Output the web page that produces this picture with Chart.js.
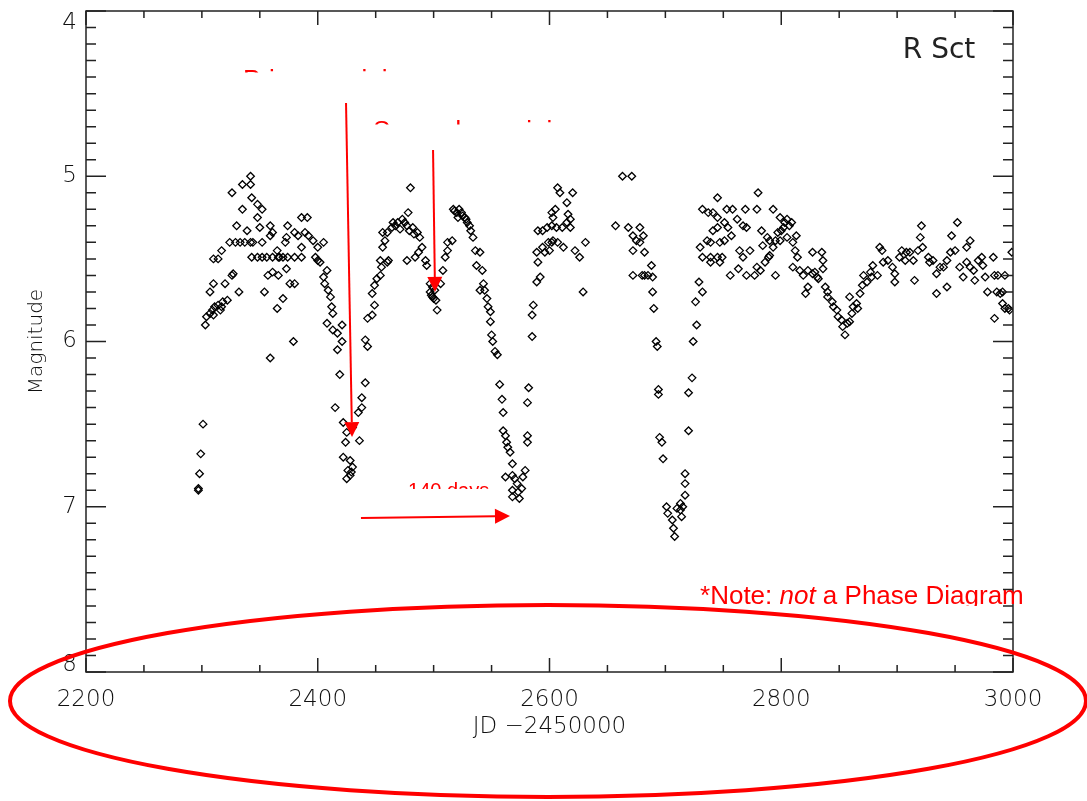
<!DOCTYPE html>
<html>
<head>
<meta charset="utf-8">
<title>R Sct light curve</title>
<script src="https://cdn.jsdelivr.net/npm/chart.js@4.4.1/dist/chart.umd.min.js"></script>
<style>
    html, body { margin: 0; padding: 0; background: #fff; }
    #wrap { width: 1087px; height: 801px; }
</style>
</head>
<body>
<div id="wrap"><canvas id="myChart" width="1087" height="801"></canvas></div>
<script>
var jd = [
    2297, 2297, 2298, 2299, 2301,
    2303, 2304, 2307, 2310, 2309, 2311, 2314, 2317, 2318, 2322, 2316,
    2307, 2310, 2320, 2326, 2327, 2332,
    2310, 2314, 2317,
    2324, 2329, 2333, 2337, 2342, 2344,
    2330, 2339, 2326, 2335, 2342, 2342, 2343, 2335, 2348, 2352, 2348, 2350, 2359, 2352, 2359, 2361,
    2374, 2383, 2386, 2391, 2389, 2392, 2396, 2405, 2400, 2386, 2380, 2373, 2372, 2365,
    2343, 2348, 2352, 2356, 2361, 2367, 2370, 2374, 2380, 2386, 2398, 2366, 2400,
    2402, 2408, 2405, 2406, 2409, 2411, 2412, 2413, 2408, 2413, 2417, 2421, 2421, 2417, 2419, 2415,
    2422, 2425, 2430, 2436, 2424, 2422, 2428, 2430, 2428, 2425, 2429, 2426,
    2357, 2361, 2366, 2373, 2376, 2380, 2370, 2365, 2354, 2359, 2379,
    2441, 2438, 2438, 2435, 2443, 2441, 2443, 2447, 2449, 2447, 2449, 2451, 2454, 2455, 2460, 2461,
    2454, 2456, 2458, 2460, 2456, 2464, 2465, 2469, 2473, 2477, 2480, 2478, 2482, 2486, 2488, 2490,
    2487, 2484, 2477, 2493, 2494, 2497, 2499, 2499, 2503, 2506, 2508, 2510, 2512, 2512, 2516, 2517,
    2520, 2521, 2524, 2527, 2529, 2531, 2534, 2536, 2537, 2540,
    2497, 2498, 2500, 2501, 2502, 2467, 2471, 2475, 2479, 2483, 2518, 2522, 2525, 2528, 2532,
    2540, 2542, 2543, 2544, 2546, 2547, 2549, 2549, 2550, 2551, 2553, 2555, 2557, 2559, 2560, 2560,
    2562, 2563, 2564, 2566, 2568, 2562, 2568, 2570, 2572, 2568, 2573, 2568, 2574, 2576, 2577, 2579,
    2581, 2581, 2581, 2582, 2585, 2585, 2586, 2589, 2592, 2590, 2589, 2594, 2596, 2600, 2599, 2602,
    2603, 2607, 2612, 2590, 2594, 2598, 2602, 2606, 2611, 2615, 2618, 2616, 2602, 2605, 2603, 2607,
    2609, 2615, 2620, 2618, 2622, 2626, 2631, 2629,
    2657, 2663, 2671, 2668, 2672, 2678, 2681, 2675, 2678, 2672, 2682, 2688, 2672, 2680, 2682, 2685,
    2689, 2689, 2690, 2692, 2693, 2694, 2694, 2695, 2697, 2698, 2701, 2702, 2706, 2707, 2708, 2710,
    2713, 2714, 2713, 2715, 2717, 2717, 2717, 2720, 2720, 2723, 2724, 2727, 2726, 2729, 2732, 2732,
    2739, 2745, 2749, 2730, 2736, 2739, 2741, 2745, 2751, 2754, 2757, 2751, 2747, 2747, 2739, 2732,
    2737, 2741, 2745, 2745, 2753, 2758, 2769, 2779, 2780, 2793, 2762, 2767, 2770, 2783, 2788, 2790,
    2784, 2793, 2756, 2763, 2770, 2777, 2782, 2786, 2789, 2795, 2764, 2767, 2773, 2779, 2790,
    2799, 2802, 2805, 2809, 2797, 2795, 2799, 2805, 2810, 2812, 2814, 2810, 2816, 2819, 2823, 2827,
    2829, 2831, 2823, 2821, 2827, 2835, 2836, 2836, 2832, 2838, 2840, 2840, 2844, 2845, 2848, 2849,
    2852, 2853, 2855, 2857, 2859, 2861, 2862, 2865, 2866, 2859, 2868, 2870, 2871, 2874, 2877, 2879,
    2878, 2883, 2885, 2887, 2888, 2892, 2896, 2898, 2898, 2902, 2904, 2907, 2908, 2911, 2915, 2914,
    2918, 2920, 2921, 2922, 2927, 2928, 2931, 2934, 2934, 2937, 2940, 2943, 2943, 2946, 2947, 2950,
    2952, 2954, 2957, 2960, 2963, 2960, 2963, 2966, 2967, 2970, 2973, 2974, 2976, 2978, 2983, 2984,
    2984, 2986, 2989, 2991, 2993, 2996, 2999, 2991, 2993, 2987, 2997,
    2800, 2803, 2807, 2813
];
var mag = [
    6.90, 6.89, 6.80, 6.68, 6.50,
    5.90, 5.85, 5.83, 5.84, 5.81, 5.79, 5.78, 5.79, 5.76, 5.75, 5.81,
    5.70, 5.65, 5.65, 5.60, 5.59, 5.70,
    5.50, 5.50, 5.45,
    5.40, 5.40, 5.40, 5.40, 5.40, 5.40,
    5.30, 5.33, 5.10, 5.05, 5.05, 5.00, 5.13, 5.20, 5.17, 5.20, 5.25, 5.31, 5.30, 5.40, 5.36, 5.34,
    5.30, 5.36, 5.25, 5.25, 5.34, 5.36, 5.39, 5.40, 5.43, 5.43, 5.34, 5.37, 5.40, 5.45,
    5.49, 5.49, 5.49, 5.49, 5.49, 5.49, 5.49, 5.49, 5.49, 5.49, 5.49, 5.49, 5.51,
    5.52, 5.57, 5.61, 5.65, 5.69, 5.73, 5.79, 5.83, 5.89, 5.93, 5.95, 5.90, 6.00, 6.05, 6.20, 6.40,
    6.49, 6.55, 6.52, 6.60, 6.61, 6.70, 6.72, 6.76, 6.81, 6.83, 6.79, 6.78,
    5.60, 5.58, 5.60, 5.56, 5.65, 5.65, 5.74, 5.80, 5.70, 6.10, 6.00,
    6.25, 6.34, 6.40, 6.43, 6.03, 5.99, 5.86, 5.84, 5.78, 5.71, 5.66, 5.62, 5.60, 5.55, 5.52, 5.51,
    5.51, 5.43, 5.39, 5.34, 5.34, 5.31, 5.28, 5.28, 5.26, 5.30, 5.07, 5.22, 5.31, 5.34, 5.37, 5.43,
    5.46, 5.49, 5.51, 5.51, 5.54, 5.65, 5.67, 5.73, 5.81, 5.65, 5.57, 5.49, 5.45, 5.40, 5.39, 5.20,
    5.22, 5.25, 5.22, 5.25, 5.28, 5.30, 5.37, 5.45, 5.54, 5.69,
    5.70, 5.72, 5.74, 5.69, 5.75, 5.30, 5.32, 5.28, 5.33, 5.35, 5.21, 5.20, 5.24, 5.26, 5.33,
    5.46, 5.57, 5.65, 5.69, 5.74, 5.79, 5.82, 5.88, 5.96, 6.00, 6.06, 6.08, 6.26, 6.35, 6.43, 6.54,
    6.57, 6.61, 6.64, 6.67, 6.74, 6.82, 6.81, 6.83, 6.86, 6.90, 6.91, 6.94, 6.95, 6.89, 6.82, 6.78,
    6.61, 6.57, 6.37, 6.28, 5.97, 5.84, 5.78, 5.64, 5.61, 5.52, 5.46, 5.43, 5.46, 5.45, 5.40, 5.40,
    5.39, 5.40, 5.43, 5.33, 5.33, 5.31, 5.30, 5.31, 5.31, 5.28, 5.26, 5.23, 5.22, 5.20, 5.25, 5.07,
    5.10, 5.16, 5.10, 5.31, 5.45, 5.49, 5.40, 5.70,
    5.30, 5.00, 5.00, 5.31, 5.36, 5.31, 5.36, 5.39, 5.40, 5.45, 5.46, 5.54, 5.60, 5.60, 5.60, 5.60,
    5.61, 5.70, 5.80, 6.00, 6.03, 6.29, 6.32, 6.58, 6.61, 6.71, 7.00, 7.04, 7.08, 7.13, 7.18, 7.01,
    7.02, 7.06, 6.98, 7.00, 6.93, 6.86, 6.80, 6.54, 6.31, 6.22, 6.00, 5.90, 5.76, 5.64, 5.70, 5.49,
    5.49, 5.49, 5.49, 5.43, 5.39, 5.40, 5.33, 5.31, 5.28, 5.31, 5.36, 5.39, 5.40, 5.52, 5.52, 5.20,
    5.22, 5.22, 5.25, 5.13, 5.20, 5.20, 5.20, 5.20, 5.10, 5.20, 5.26, 5.30, 5.31, 5.33, 5.37, 5.39,
    5.42, 5.43, 5.60, 5.56, 5.60, 5.60, 5.57, 5.52, 5.49, 5.60, 5.45, 5.49, 5.45, 5.55, 5.48,
    5.25, 5.31, 5.26, 5.28, 5.34, 5.39, 5.39, 5.37, 5.40, 5.45, 5.49, 5.55, 5.57, 5.60, 5.57, 5.59,
    5.58, 5.61, 5.67, 5.71, 5.46, 5.46, 5.51, 5.56, 5.62, 5.67, 5.70, 5.73, 5.76, 5.79, 5.81, 5.85,
    5.87, 5.91, 5.96, 5.89, 5.88, 5.83, 5.79, 5.77, 5.80, 5.73, 5.71, 5.66, 5.60, 5.64, 5.58, 5.54,
    5.61, 5.60, 5.43, 5.45, 5.52, 5.51, 5.55, 5.59, 5.64, 5.49, 5.45, 5.51, 5.46, 5.46, 5.63, 5.51,
    5.45, 5.37, 5.30, 5.43, 5.49, 5.52, 5.51, 5.59, 5.71, 5.55, 5.55, 5.67, 5.51, 5.46, 5.36, 5.45,
    5.28, 5.55, 5.61, 5.43, 5.39, 5.52, 5.55, 5.57, 5.63, 5.51, 5.49, 5.54, 5.61, 5.70, 5.49, 5.60,
    5.86, 5.70, 5.71, 5.77, 5.80, 5.80, 5.46, 5.70, 5.60, 5.60, 5.81,
    5.33, 5.28, 5.30, 5.36
];

var xTicks = [2200, 2400, 2600, 2800, 3000];
var yTicks = [4, 5, 6, 7, 8];
var xMinorStep = 50;
var yMinorStep = 0.1;

// annotations, in data units
var arrows = [
    { from: [2424.4, 4.557], to: [2429.6, 6.578] },
    { from: [2499.5, 4.841], to: [2501.2, 5.700] },
    { from: [2437.3, 7.068], to: [2565.9, 7.056] }
];
var cutLabels = [
    { text: 'Primary minimum', x: 2335.5, y: 4.466, clipY: 4.372, size: 26 },
    { text: 'Secondary minimum', x: 2447.7, y: 4.775, clipY: 4.687, size: 26 },
    { text: '140 days', x: 2477.9, y: 6.944, clipY: 6.893, size: 20 }
];
var ring = { x: 2598.7, y: 8.175, rx: 464.3, ry: 0.581 };

var points = [];
for (var i = 0; i < jd.length; i++) {
    points.push({ x: jd[i], y: mag[i] });
}

var tickFont = { family: 'DejaVu Sans', size: 23, weight: '200' };
var inkColor = '#111';

var decorPlugin = {
    id: 'decor',
    afterDraw: function (chart) {
        var ctx = chart.ctx;
        var xs = chart.scales.x;
        var ys = chart.scales.y;
        var a = chart.chartArea;
        var px = function (v) { return xs.getPixelForValue(v); };
        var py = function (v) { return ys.getPixelForValue(v); };

        ctx.save();

        // frame and inward ticks
        ctx.strokeStyle = '#222';
        ctx.lineWidth = 1.5;
        ctx.strokeRect(a.left, a.top, a.right - a.left, a.bottom - a.top);
        ctx.beginPath();
        var nx = Math.round((xs.max - xs.min) / xMinorStep);
        for (var k = 0; k <= nx; k++) {
            var v = xs.min + k * xMinorStep;
            var len = (xTicks.indexOf(v) >= 0) ? 14 : 7;
            var x = px(v);
            ctx.moveTo(x, a.bottom);
            ctx.lineTo(x, a.bottom - len);
            ctx.moveTo(x, a.top);
            ctx.lineTo(x, a.top + len);
        }
        var ny = Math.round((ys.max - ys.min) / yMinorStep);
        for (var j = 0; j <= ny; j++) {
            var w = ys.min + j * yMinorStep;
            var ylen = (j % 10 === 0) ? 20 : 10;
            var y = py(w);
            ctx.moveTo(a.left, y);
            ctx.lineTo(a.left + ylen, y);
            ctx.moveTo(a.right, y);
            ctx.lineTo(a.right - ylen, y);
        }
        ctx.stroke();

        // first and last magnitude labels sit inside the axis span
        ctx.fillStyle = inkColor;
        ctx.font = tickFont.weight + ' ' + tickFont.size + 'px "' + tickFont.family + '"';
        ctx.textAlign = 'right';
        var first = yTicks[0], last = yTicks[yTicks.length - 1];
        ctx.textBaseline = 'alphabetic';
        ctx.fillText(String(first), a.left - 9, py(first) + 18);
        ctx.fillText(String(last), a.left - 9, py(last) - 1);

        // star name
        ctx.fillStyle = '#222';
        ctx.font = '28px "DejaVu Sans"';
        ctx.textAlign = 'left';
        ctx.fillText('R Sct', px(2904.9), py(4.284));

        // red arrows
        ctx.strokeStyle = '#ff0000';
        ctx.fillStyle = '#ff0000';
        ctx.lineWidth = 2;
        arrows.forEach(function (ar) {
            var x0 = px(ar.from[0]), y0 = py(ar.from[1]);
            var x1 = px(ar.to[0]), y1 = py(ar.to[1]);
            var ang = Math.atan2(y1 - y0, x1 - x0);
            var hl = 15, hw = 7.5;
            var bx = x1 - hl * Math.cos(ang), by = y1 - hl * Math.sin(ang);
            ctx.beginPath();
            ctx.moveTo(x0, y0);
            ctx.lineTo(bx, by);
            ctx.stroke();
            ctx.beginPath();
            ctx.moveTo(x1, y1);
            ctx.lineTo(bx + hw * Math.sin(ang), by - hw * Math.cos(ang));
            ctx.lineTo(bx - hw * Math.sin(ang), by + hw * Math.cos(ang));
            ctx.closePath();
            ctx.fill();
        });

        // labels whose boxes were cut off in the original
        cutLabels.forEach(function (lb) {
            ctx.save();
            ctx.beginPath();
            ctx.rect(0, 0, chart.width, py(lb.clipY));
            ctx.clip();
            ctx.font = lb.size + 'px "Liberation Sans"';
            ctx.fillText(lb.text, px(lb.x), py(lb.y));
            ctx.restore();
        });

        // note
        ctx.save();
        ctx.beginPath();
        ctx.rect(0, 0, chart.width, py(7.601));
        ctx.clip();
        var nxp = px(2729.9), nyp = py(7.588);
        var parts = [['*Note: ', ''], ['not', 'italic '], [' a Phase Diagram', '']];
        parts.forEach(function (p) {
            ctx.font = p[1] + '26px "Liberation Sans"';
            ctx.fillText(p[0], nxp, nyp);
            nxp += ctx.measureText(p[0]).width;
        });
        ctx.restore();

        // ellipse round the x axis
        var cx = px(ring.x), cy = py(ring.y);
        var rx = Math.abs(px(ring.x + ring.rx) - cx);
        var ry = Math.abs(py(ring.y + ring.ry) - cy);
        ctx.lineWidth = 4;
        ctx.beginPath();
        ctx.ellipse(cx, cy, rx, ry, 0, 0, Math.PI * 2);
        ctx.stroke();

        ctx.restore();
    }
};

var ctx = document.getElementById('myChart').getContext('2d');
var myChart = new Chart(ctx, {
    type: 'scatter',
    data: {
        datasets: [{
            data: points,
            pointStyle: 'rectRot',
            pointRadius: 3.8,
            pointHoverRadius: 3.8,
            borderWidth: 1.3,
            borderColor: '#000',
            backgroundColor: 'rgba(255,255,255,0)'
        }]
    },
    options: {
        responsive: false,
        animation: false,
        devicePixelRatio: 1,
        events: [],
        layout: {
            autoPadding: false,
            padding: { top: 11, right: 74, left: 0, bottom: 0 }
        },
        plugins: {
            legend: { display: false },
            tooltip: { enabled: false }
        },
        scales: {
            x: {
                type: 'linear',
                min: 2200,
                max: 3000,
                afterBuildTicks: function (axis) {
                    axis.ticks = xTicks.map(function (v) { return { value: v }; });
                },
                afterFit: function (scale) {
                    scale.height = 129;
                    scale.paddingLeft = 0;
                    scale.paddingRight = 0;
                },
                grid: { display: false, drawTicks: false },
                border: { display: false },
                ticks: {
                    padding: 14,
                    color: inkColor,
                    maxRotation: 0,
                    font: tickFont,
                    callback: function (v) { return String(v); }
                },
                title: {
                    display: true,
                    text: 'JD \u22122450000',
                    color: inkColor,
                    padding: { top: 0, bottom: 60 },
                    font: tickFont
                }
            },
            y: {
                type: 'linear',
                reverse: true,
                min: 4,
                max: 8,
                afterBuildTicks: function (axis) {
                    axis.ticks = yTicks.map(function (v) { return { value: v }; });
                },
                afterFit: function (scale) {
                    scale.width = 86;
                    scale.paddingTop = 0;
                    scale.paddingBottom = 0;
                },
                grid: { display: false, drawTicks: false },
                border: { display: false },
                ticks: {
                    padding: 9,
                    color: inkColor,
                    font: tickFont,
                    // the end labels are drawn by the plugin, shifted inside
                    callback: function (v) {
                        return (v === yTicks[0] || v === yTicks[yTicks.length - 1]) ? '' : String(v);
                    }
                },
                title: {
                    display: true,
                    text: 'Magnitude',
                    color: inkColor,
                    padding: { top: 25, bottom: 0 },
                    font: { family: 'DejaVu Sans', size: 20, weight: '200' }
                }
            }
        }
    },
    plugins: [decorPlugin]
});
</script>
</body>
</html>
